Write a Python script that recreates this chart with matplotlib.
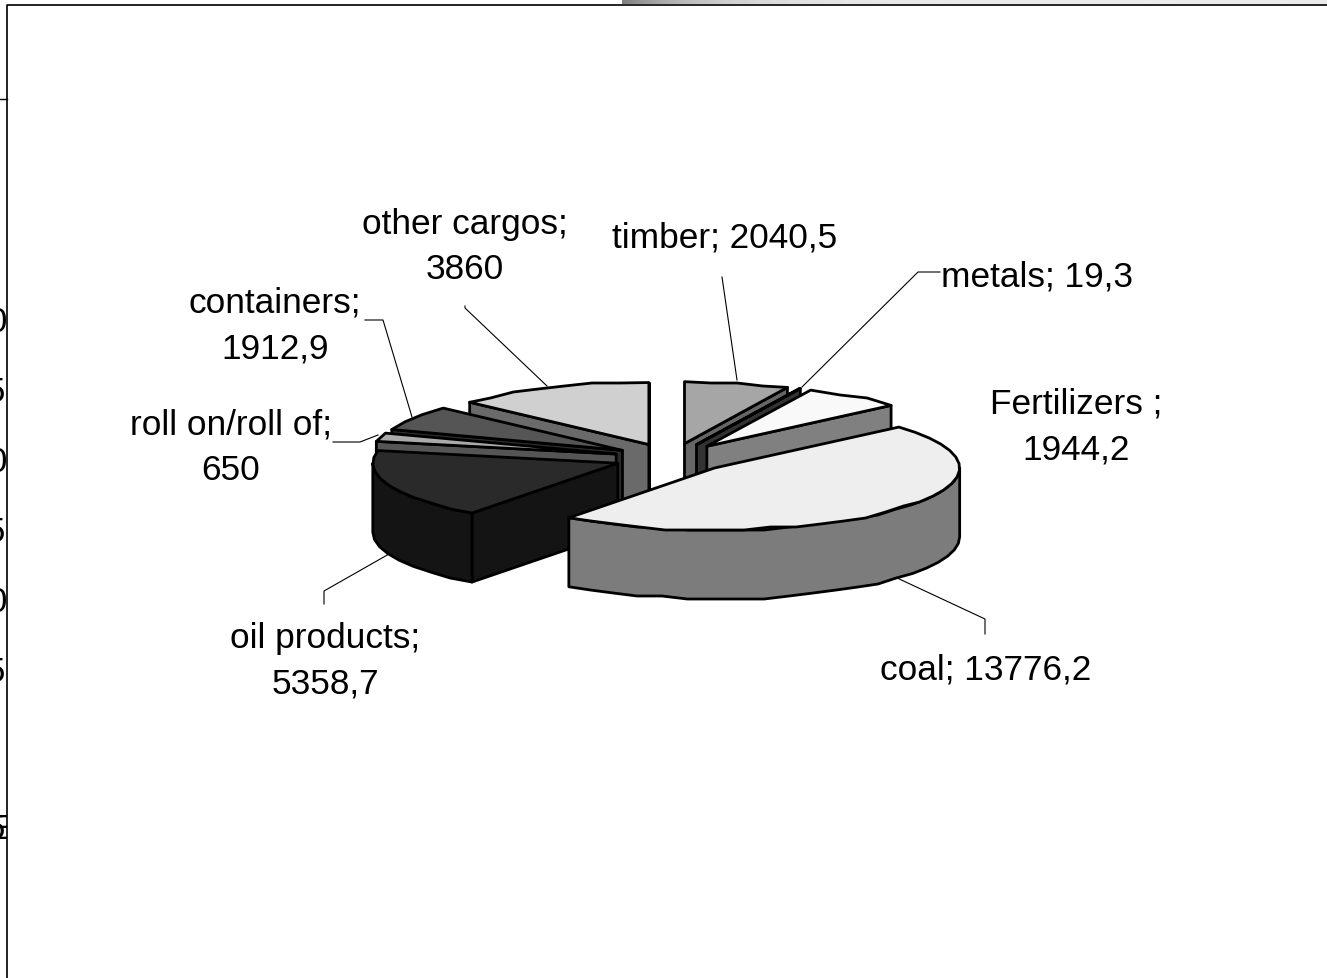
import numpy as np
import matplotlib
matplotlib.use('Agg')
import matplotlib.pyplot as plt
from matplotlib.patches import Polygon

plt.rcParams['font.family'] = ['Liberation Sans', 'DejaVu Sans']

# data, clockwise from 12 o'clock
categories = ['timber', 'metals', 'Fertilizers ', 'coal', 'oil products', 'roll on/roll of', 'containers', 'other cargos']
values = [2040.5, 19.3, 1944.2, 13776.2, 5358.7, 650, 1912.9, 3860]
value_labels = ['2040,5', '19,3', '1944,2', '13776,2', '5358,7', '650', '1912,9', '3860']

# greys for top face and for the side walls
top_colors = ['#a6a6a6', '#333333', '#f9f9f9', '#eeeeee', '#2a2a2a', '#aaaaaa', '#555555', '#d0d0d0']
wall_colors = ['#666666', '#333333', '#808080', '#7c7c7c', '#141414', '#555555', '#2c2c2c', '#6a6a6a']

# pie geometry in pixels
cx, cy = 672, 459
rx, ry = 245, 62
depth = 69
explode = 58
lw = 2.0
draw_order = [7, 6, 5, 4, 0, 1, 2, 3]  # back to front

fig = plt.figure(figsize=(13.27, 9.79), dpi=100)
ax = fig.add_axes([0, 0, 1, 1])
ax.set_xlim(0, 1327)
ax.set_ylim(979, 0)
ax.axis('off')

# grey band along the top, from the page behind the chart
band = 1 - 0.42 * np.exp(-np.linspace(0, 1, 256) * 9) - 0.08
ax.imshow(band[None, :], extent=(622, 1327, 5, 0), cmap='gray', vmin=0, vmax=1, aspect='auto', zorder=0)
ax.set_xlim(0, 1327)
ax.set_ylim(979, 0)

# clipped axis digits of the chart behind
clip = plt.Rectangle((0, 0), 7, 979, transform=ax.transData)
for yy, ch in [(323, '0'), (393, '5'), (463, '0'), (533, '5'), (603, '0'), (673, '5'), (830, '5'), (830, 'E')]:
    t = ax.text(-12 if ch == '0' else -14, yy, ch, fontsize=25, va='center', ha='left', zorder=1, clip_on=True)
    t.set_clip_path(clip)
ax.plot([7, 7, 1327], [979, 6, 6], color='black', lw=1.2, zorder=2)
ax.plot([0, 7], [100, 100], color='black', lw=1.0, zorder=2)

edges = np.cumsum([0] + values) / sum(values) * 360


def rim(x0, y0, a0, a1):
    # points on the ellipse, angle in degrees clockwise from the top
    n = max(int((a1 - a0) / 6), 1) + 1
    a = np.radians(np.linspace(a0, a1, n))
    pts = np.column_stack([x0 + rx * np.sin(a), y0 - ry * np.cos(a)])
    # the original outline is a rough low-res polyline, wobbles only where it runs flat
    flat = np.abs(np.cos(a)) > 0.6
    flat[[0, -1]] = False
    pts[flat, 1] = np.round(pts[flat, 1] / 3) * 3
    return pts


def face(pts, color):
    ax.add_patch(Polygon(pts, closed=True, facecolor=color, edgecolor='black', lw=lw, joinstyle='round', zorder=3))


for i in draw_order:
    a0, a1 = edges[i], edges[i + 1]
    mid = np.radians((a0 + a1) / 2)
    x0 = cx + explode * np.sin(mid)
    y0 = cy - explode * ry / rx * np.cos(mid)
    apex = np.array([[x0, y0]])
    down = np.array([0, depth])
    # radial walls that face the viewer
    if np.sin(np.radians(a0)) < 0:
        e = rim(x0, y0, a0, a0)[:1]
        face(np.vstack([apex, e, e + down, apex + down]), wall_colors[i])
    if np.sin(np.radians(a1)) > 0:
        e = rim(x0, y0, a1, a1)[:1]
        face(np.vstack([apex, e, e + down, apex + down]), wall_colors[i])
    # outer wall, front half only
    b0, b1 = max(a0, 90), min(a1, 270)
    if b1 > b0:
        arc = rim(x0, y0, b0, b1)
        face(np.vstack([arc, (arc + down)[::-1]]), wall_colors[i])
    face(np.vstack([apex, rim(x0, y0, a0, a1)]), top_colors[i])

# labels: centre of the text block and the leader line
label_pos = [(725, 238), (1037, 277), (1076, 427), (986, 670), (325, 661), (231, 448), (275, 326), (465, 247)]
label_two_lines = [False, False, True, False, True, True, True, True]
leaders = [
    [(722, 278), (737, 381)],
    [(940, 273), (918, 273), (802, 388)],
    [],
    [(985, 635), (985, 620), (895, 578)],
    [(324, 605), (324, 592), (389, 555)],
    [(333, 443), (360, 443), (378, 436)],
    [(365, 321), (383, 321), (412, 418)],
    [(465, 307), (465, 309), (547, 387)],
]
for name, val, pos, two, line in zip(categories, value_labels, label_pos, label_two_lines, leaders):
    sep = ';\n' if two else '; '
    ax.text(pos[0], pos[1], name + sep + val, ha='center', va='center', fontsize=25.4,
            linespacing=1.47, color='black', zorder=5)
    if line:
        xs, ys = zip(*line)
        ax.plot(xs, ys, color='black', lw=0.8, zorder=2.5)

fig.savefig('out.png', dpi=100)
